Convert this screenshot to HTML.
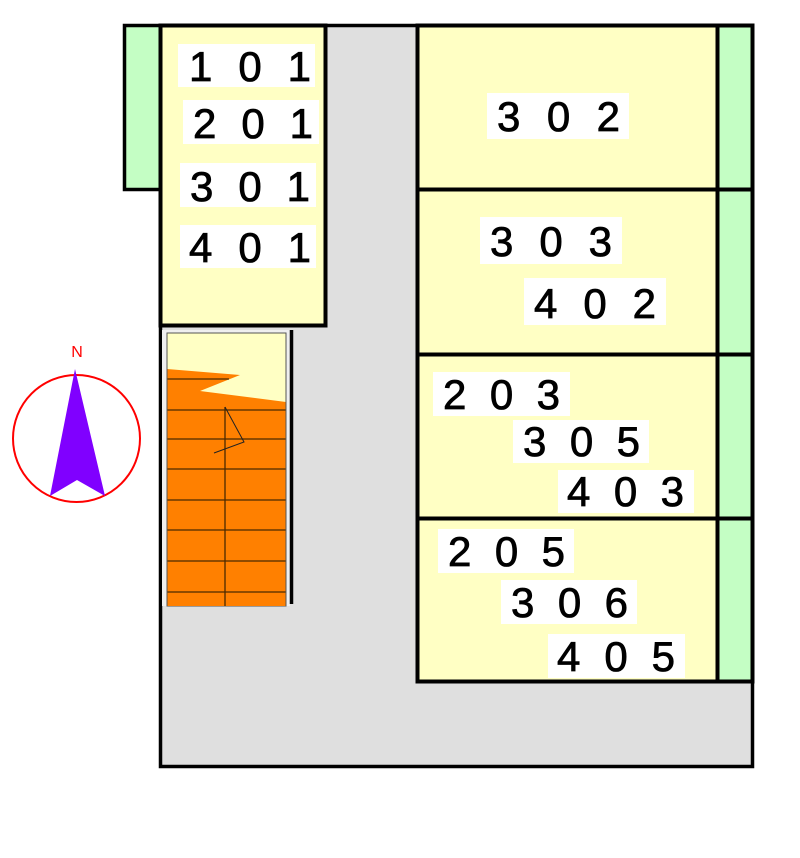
<!DOCTYPE html>
<html><head><meta charset="utf-8"><style>
html,body{margin:0;padding:0;background:#fff;}
svg{display:block;}
text{font-family:"Liberation Sans",sans-serif;font-size:42px;fill:#000;}
.lbl text{stroke:#000;stroke-width:0.8px;}
</style></head><body>
<svg width="800" height="858" viewBox="0 0 800 858" xmlns="http://www.w3.org/2000/svg">
<rect x="160.5" y="25.5" width="592" height="741" fill="#dfdfdf" stroke="#000" stroke-width="3.5"/>
<rect x="124.5" y="25.5" width="36" height="164" fill="#c4fec4" stroke="#000" stroke-width="3.5"/>
<rect x="160.5" y="25.5" width="165" height="300" fill="#ffffc4" stroke="#000" stroke-width="4"/>
<rect x="162" y="330" width="128" height="276" fill="#efefef"/>
<rect x="167" y="333" width="119" height="273" fill="#ffffc4" stroke="#555" stroke-width="1"/>
<polygon points="167,369 240,375 200,391 286,402 286,606 167,606" fill="#ff8000"/>
<line x1="291.5" y1="330" x2="291.5" y2="604" stroke="#000" stroke-width="3.5"/>
<g stroke="#4a2a00" stroke-width="1.3">
<line x1="167" y1="379" x2="229" y2="379"/>
<line x1="167" y1="410" x2="286" y2="410"/>
<line x1="167" y1="439" x2="286" y2="439"/>
<line x1="167" y1="469" x2="286" y2="469"/>
<line x1="167" y1="500" x2="286" y2="500"/>
<line x1="167" y1="530" x2="286" y2="530"/>
<line x1="167" y1="561" x2="286" y2="561"/>
<line x1="167" y1="592" x2="286" y2="592"/>
<line x1="225" y1="407" x2="225" y2="606"/>
</g>
<polyline points="225,407 244,442 214,453" fill="none" stroke="#222" stroke-width="1"/>
<line x1="167" y1="333" x2="167" y2="606" stroke="#555" stroke-width="1"/>
<line x1="286" y1="333" x2="286" y2="606" stroke="#555" stroke-width="1"/>
<g stroke="#000" stroke-width="4">
<rect x="417.5" y="25.5" width="300" height="164" fill="#ffffc4"/>
<rect x="717.5" y="25.5" width="35" height="164" fill="#c4fec4"/>
<rect x="417.5" y="189.5" width="300" height="165" fill="#ffffc4"/>
<rect x="717.5" y="189.5" width="35" height="165" fill="#c4fec4"/>
<rect x="417.5" y="354.5" width="300" height="164" fill="#ffffc4"/>
<rect x="717.5" y="354.5" width="35" height="164" fill="#c4fec4"/>
<rect x="417.5" y="518.5" width="300" height="163" fill="#ffffc4"/>
<rect x="717.5" y="518.5" width="35" height="163" fill="#c4fec4"/>
</g>
<g fill="#fff">
<rect x="178" y="44" width="137" height="43"/>
<rect x="183" y="100" width="136" height="44"/>
<rect x="180" y="163" width="136" height="44"/>
<rect x="180" y="225" width="136" height="43"/>
<rect x="487" y="93" width="142" height="46"/>
<rect x="480" y="217" width="142" height="47"/>
<rect x="524" y="278" width="142" height="47"/>
<rect x="433" y="372" width="137" height="44"/>
<rect x="513" y="420" width="136" height="43"/>
<rect x="558" y="470" width="136" height="43"/>
<rect x="438" y="529" width="136" height="44"/>
<rect x="501" y="580" width="136" height="44"/>
<rect x="548" y="634" width="137" height="44"/>
</g>
<g class="lbl">
<text x="189" y="81" textLength="122" lengthAdjust="spacing">1 0 1</text>
<text x="193" y="138" textLength="120" lengthAdjust="spacing">2 0 1</text>
<text x="190" y="201" textLength="120" lengthAdjust="spacing">3 0 1</text>
<text x="189" y="262" textLength="122" lengthAdjust="spacing">4 0 1</text>
<text x="497" y="131" textLength="123" lengthAdjust="spacing">3 0 2</text>
<text x="490" y="256" textLength="122" lengthAdjust="spacing">3 0 3</text>
<text x="534" y="318" textLength="122" lengthAdjust="spacing">4 0 2</text>
<text x="443" y="409" textLength="117" lengthAdjust="spacing">2 0 3</text>
<text x="523" y="456" textLength="117" lengthAdjust="spacing">3 0 5</text>
<text x="567" y="506" textLength="117" lengthAdjust="spacing">4 0 3</text>
<text x="448" y="566" textLength="117" lengthAdjust="spacing">2 0 5</text>
<text x="511" y="617" textLength="117" lengthAdjust="spacing">3 0 6</text>
<text x="557" y="671" textLength="118" lengthAdjust="spacing">4 0 5</text>
</g>
<circle cx="76.5" cy="438.5" r="63.5" fill="none" stroke="#ff0000" stroke-width="2"/>
<polygon points="75,369 50,496 77,480 105,496" fill="#8000ff"/>
<text x="77" y="357" text-anchor="middle" style="font-size:16px;fill:#ff0000">N</text>
</svg>
</body></html>
